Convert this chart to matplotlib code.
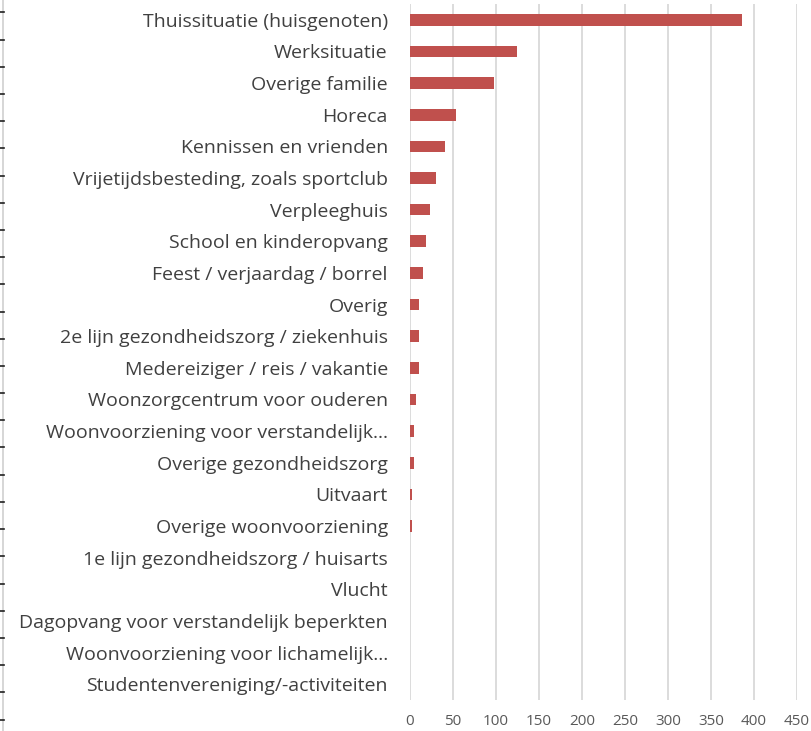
import matplotlib
matplotlib.use("Agg")
import matplotlib.pyplot as plt
from matplotlib.lines import Line2D

categories = [
    "Thuissituatie (huisgenoten)",
    "Werksituatie",
    "Overige familie",
    "Horeca",
    "Kennissen en vrienden",
    "Vrijetijdsbesteding, zoals sportclub",
    "Verpleeghuis",
    "School en kinderopvang",
    "Feest / verjaardag / borrel",
    "Overig",
    "2e lijn gezondheidszorg / ziekenhuis",
    "Medereiziger / reis / vakantie",
    "Woonzorgcentrum voor ouderen",
    "Woonvoorziening voor verstandelijk…",
    "Overige gezondheidszorg",
    "Uitvaart",
    "Overige woonvoorziening",
    "1e lijn gezondheidszorg / huisarts",
    "Vlucht",
    "Dagopvang voor verstandelijk beperkten",
    "Woonvoorziening voor lichamelijk…",
    "Studentenvereniging/-activiteiten",
]
values = [386, 125, 98, 53, 41, 30, 23, 19, 15, 11, 11, 11, 7, 5, 5, 2, 2, 0, 0, 0, 0, 0]
xticks = [0, 50, 100, 150, 200, 250, 300, 350, 400, 450]

W, H = 812, 731
fig = plt.figure(figsize=(W / 100, H / 100), dpi=100)
ax = fig.add_axes([410 / W, 1 - 700 / H, (797 - 410) / W, (700 - 4) / H])

y = list(range(len(categories)))
ax.barh(y, values, height=0.37, color="#C0504D")
ax.set_ylim(len(categories) - 0.5, -0.5)
ax.set_xlim(0, 450)
ax.set_xticks(xticks)
ax.set_xticklabels([str(t) for t in xticks], fontsize=11, color="#595959", family="Open Sans")
ax.set_yticks(y)
ax.set_yticklabels(categories, fontsize=14, color="#404040", family="Open Sans")
ax.tick_params(axis="y", length=0, pad=16)
ax.tick_params(axis="x", length=0, pad=10)
ax.grid(axis="x", color="#D9D9D9", linewidth=1.3)
ax.set_axisbelow(True)
for s in ax.spines.values():
    s.set_visible(False)

# cropped-screenshot artefact at left edge
fig.add_artist(Line2D([3.5 / W, 3.5 / W], [0, 1], color="#D0D0D0", linewidth=1.2))
k = 12.3
while k < H:
    fig.add_artist(Line2D([0, 4 / W], [1 - k / H, 1 - k / H], color="#202020", linewidth=1.2))
    k += 27.2

fig.savefig("out.png", dpi=100)
